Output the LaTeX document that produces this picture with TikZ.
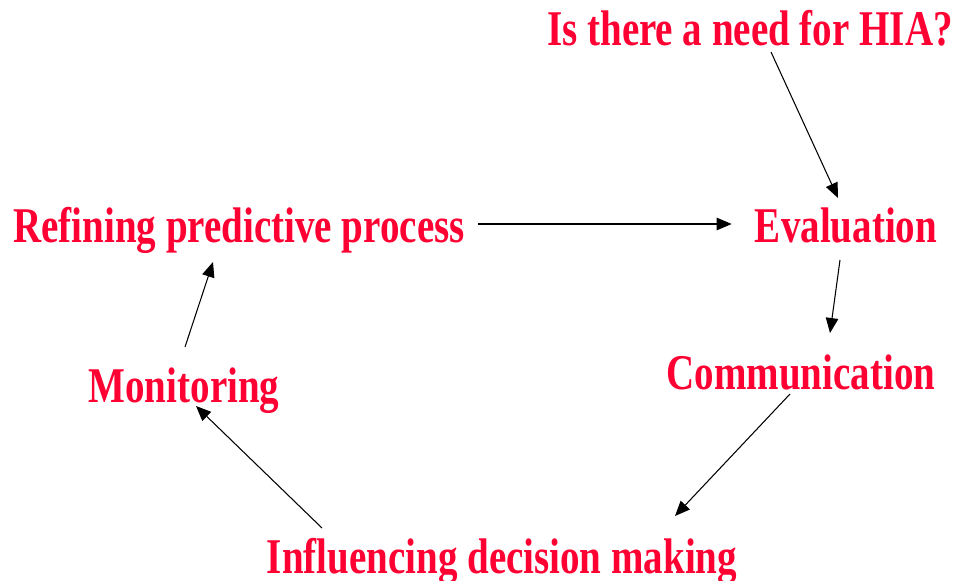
\documentclass[tikz,border=0pt]{standalone}
\usepackage{fontspec}
\setmainfont{Liberation Serif}[FakeStretch=0.78]
\usetikzlibrary{arrows.meta}
\definecolor{hiaRed}{HTML}{FF0033}

\begin{document}
\begin{tikzpicture}[
  step label/.style={anchor=base,inner sep=0pt,text=hiaRed,
    font=\fontsize{28.45}{34}\selectfont\bfseries},
  arr/.style={-{Triangle[length=0.3cm,width=0.25cm]},black,line width=0.6pt}
]
  \useasboundingbox (0,0) rectangle (19.12,11.6);
  \node[step label] (need) at (15.00,10.68) {Is there a need for HIA?};
  \node[step label] (eval) at (16.92,6.74) {Evaluation};
  \node[step label] (refine) at (4.78,6.74) {Refining predictive process};
  \node[step label] (comm) at (16.02,3.82) {Communication};
  \node[step label] (monit) at (3.68,3.56) {Monitoring};
  \node[step label] (influ) at (10.04,0.14) {Influencing decision making};
  % the cycle
  \draw[arr] ([shift={(0.42,-0.12)}]need.base) -- ([shift={(-0.16,0.90)}]eval.base);
  \draw[arr] ([shift={(0.26,0.38)}]refine.base east) -- ([shift={(-0.46,0.38)}]eval.base west);
  \draw[arr] ([shift={(-0.12,-0.34)}]eval.base) -- ([shift={(0.58,1.12)}]comm.base);
  \draw[arr] ([shift={(-0.22,-0.10)}]comm.base) -- ([shift={(3.46,1.14)}]influ.base);
  \draw[arr] ([shift={(-3.60,0.90)}]influ.base) -- ([shift={(0.24,-0.08)}]monit.base);
  \draw[arr] ([shift={(0.02,1.10)}]monit.base) -- ([shift={(-0.52,-0.38)}]refine.base);
\end{tikzpicture}
\end{document}
